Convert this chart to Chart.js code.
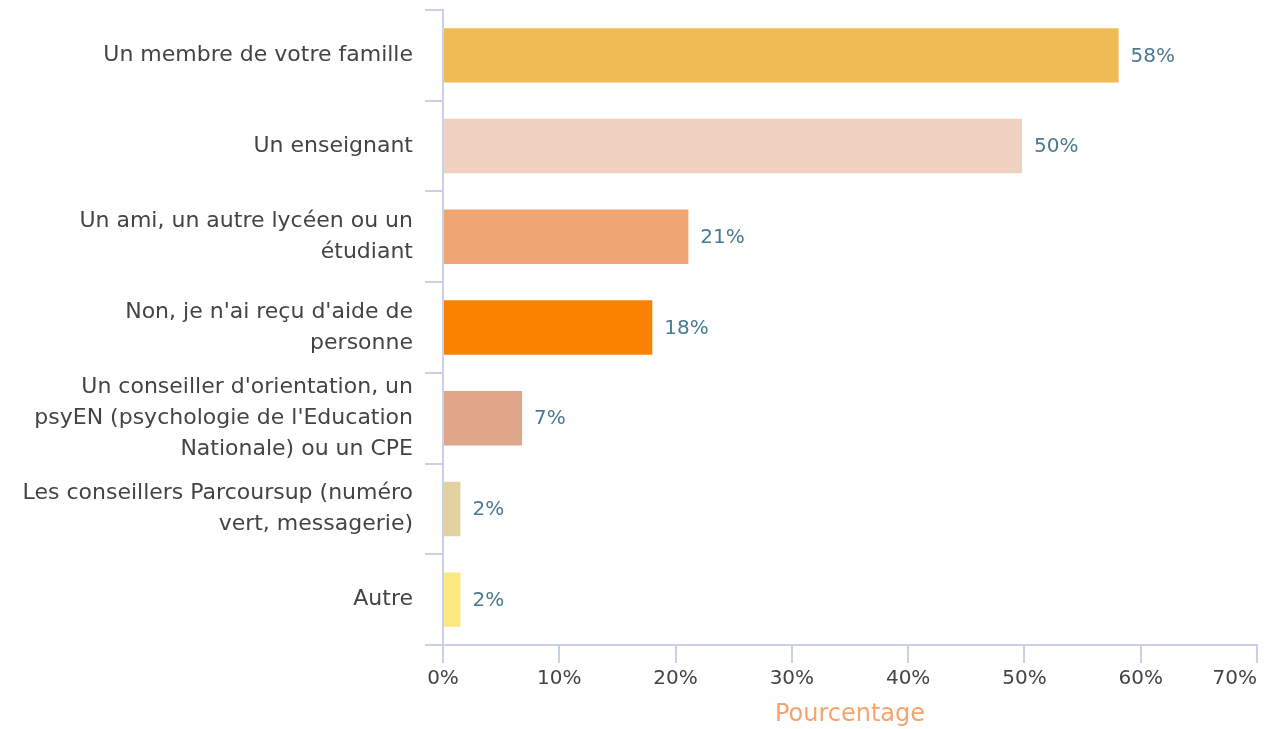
<!DOCTYPE html>
<html>
<head>
<meta charset="utf-8">
<script src="https://cdn.jsdelivr.net/npm/chart.js@4"></script>
<style>
  html, body { margin: 0; padding: 0; background: #fff; }
  #wrap { width: 1271px; height: 729px; }
</style>
</head>
<body>
<div id="wrap"><canvas id="chart"></canvas></div>
<script>
const categories = [
    'Un membre de votre famille',
    'Un enseignant',
    ['Un ami, un autre lycéen ou un', 'étudiant'],
    ["Non, je n'ai reçu d'aide de", 'personne'],
    ["Un conseiller d'orientation, un", "psyEN (psychologie de l'Education", 'Nationale) ou un CPE'],
    ['Les conseillers Parcoursup (numéro', 'vert, messagerie)'],
    'Autre'
];
const values = [58.1, 49.8, 21.1, 18.0, 6.8, 1.5, 1.5];
const barColors = ['#F0BA55', '#EED1BE', '#F0A672', '#F98200', '#E0A68A', '#E2D29F', '#FEE880'];
const xTicks = [0, 10, 20, 30, 40, 50, 60, 70];

const FONT = 'DejaVu Sans';
const axisColor = '#C9D1EA';

// draws the value next to the end of each bar
const valueLabels = {
    id: 'valueLabels',
    afterDatasetsDraw(chart) {
        const ctx = chart.ctx;
        const meta = chart.getDatasetMeta(0);
        ctx.save();
        ctx.font = '20px "' + FONT + '"';
        ctx.fillStyle = '#4A7A90';
        ctx.textBaseline = 'middle';
        ctx.textAlign = 'left';
        meta.data.forEach((bar, i) => {
            ctx.fillText(Math.round(values[i]) + '%', bar.x + 12, bar.y + 1);
        });
        ctx.restore();
    }
};

const ctx = document.getElementById('chart').getContext('2d');
Chart.defaults.font.family = FONT;
Chart.defaults.color = '#444';

new Chart(ctx, {
    type: 'bar',
    data: {
        labels: categories,
        datasets: [{
            data: values,
            backgroundColor: barColors,
            borderWidth: 0,
            categoryPercentage: 1,
            barPercentage: 0.6
        }]
    },
    options: {
        indexAxis: 'y',
        responsive: true,
        maintainAspectRatio: false,
        animation: false,
        layout: { padding: { top: 10, right: 14, left: 0, bottom: 0 } },
        plugins: {
            legend: { display: false },
            tooltip: { enabled: false }
        },
        scales: {
            x: {
                min: 0,
                max: 70,
                afterBuildTicks(scale) {
                    scale.ticks = xTicks.map(v => ({ value: v }));
                },
                ticks: {
                    // last label sits left of its tick, like the original
                    callback: v => v === 70 ? v + '%' + '\u00A0'.repeat(7) : v + '%',
                    font: { size: 20 },
                    color: '#444',
                    padding: 4,
                    maxRotation: 0,
                    autoSkip: false
                },
                grid: {
                    drawOnChartArea: false,
                    drawTicks: true,
                    tickLength: 18,
                    color: axisColor,
                    lineWidth: 2
                },
                border: { color: axisColor, width: 2 },
                title: {
                    display: true,
                    text: 'Pourcentage',
                    color: '#F4A46E',
                    font: { size: 24 },
                    padding: { top: 2, bottom: 0 }
                },
                afterFit(scale) {
                    scale.height = 84;
                    scale.paddingLeft = 0;
                    scale.paddingRight = 0;
                }
            },
            y: {
                ticks: {
                    font: { size: 22, lineHeight: 1.4 },
                    color: '#444',
                    padding: 12,
                    autoSkip: false
                },
                grid: {
                    drawOnChartArea: false,
                    drawTicks: true,
                    tickLength: 18,
                    color: axisColor,
                    lineWidth: 2
                },
                border: { color: axisColor, width: 2 },
                afterFit(scale) {
                    scale.width = 443;
                    scale.paddingTop = 0;
                    scale.paddingBottom = 0;
                }
            }
        }
    },
    plugins: [valueLabels]
});
</script>
</body>
</html>
